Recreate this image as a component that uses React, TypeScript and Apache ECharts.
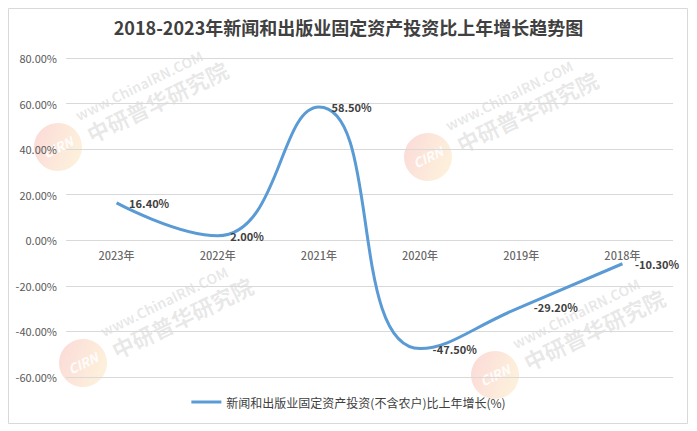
import React, { useEffect, useRef } from "react";
import * as echarts from "echarts";

const title = "2018-2023年新闻和出版业固定资产投资比上年增长趋势图";
const seriesName = "新闻和出版业固定资产投资(不含农户)比上年增长(%)";
const categories = ["2023年", "2022年", "2021年", "2020年", "2019年", "2018年"];
const values = [16.4, 2.0, 58.5, -47.5, -29.2, -10.3];
const yMin = -60;
const yMax = 80;
const yStep = 20;

const FONT = '"Noto Sans CJK SC", "Noto Sans", sans-serif';
const LINE_COLOR = "#5B9BD5";

function watermark(cx: number, cy: number) {
  return {
    type: "group",
    x: cx,
    y: cy,
    rotation: (26 * Math.PI) / 180,
    silent: true,
    z: 0,
    children: [
      {
        type: "circle",
        shape: { cx: 0, cy: 0, r: 24 },
        style: {
          fill: {
            type: "linear",
            x: 0,
            y: 0,
            x2: 1,
            y2: 1,
            colorStops: [
              { offset: 0, color: "rgba(235,60,60,0.2)" },
              { offset: 1, color: "rgba(245,200,60,0.18)" },
            ],
          },
        },
      },
      {
        type: "text",
        x: 0,
        y: 0,
        style: {
          text: "CIRN",
          fill: "rgba(255,255,255,0.9)",
          font: `italic bold 13px ${FONT}`,
          align: "center",
          verticalAlign: "middle",
        },
      },
      {
        type: "text",
        x: 32,
        y: 2,
        style: {
          text: "中研普华研究院",
          fill: "rgba(110,110,110,0.16)",
          font: `bold 22px ${FONT}`,
          align: "left",
          verticalAlign: "middle",
        },
      },
      {
        type: "text",
        x: 30,
        y: -20,
        style: {
          text: "www.ChinaIRN.COM",
          fill: "rgba(110,110,110,0.16)",
          font: `bold 14px ${FONT}`,
          align: "left",
          verticalAlign: "middle",
        },
      },
    ],
  };
}

export default function App() {
  const ref = useRef<HTMLDivElement>(null);
  useEffect(() => {
    if (!ref.current) return;
    const chart = echarts.init(ref.current, undefined, { renderer: "svg" });
    chart.setOption({
      animation: false,
      backgroundColor: "#ffffff",
      title: {
        text: title,
        left: "center",
        top: 13,
        textStyle: { fontFamily: FONT, fontSize: 18, fontWeight: "bold", color: "#404040" },
      },
      legend: {
        bottom: 18,
        left: "center",
        icon: "rect",
        itemWidth: 30,
        itemHeight: 3,
        textStyle: { fontFamily: FONT, fontSize: 12, color: "#404040" },
        data: [{ name: seriesName, itemStyle: { color: LINE_COLOR, opacity: 1 } }],
      },
      grid: { left: 66, right: 24, top: 58, bottom: 54, containLabel: false },
      xAxis: {
        type: "category",
        data: categories,
        boundaryGap: true,
        axisLine: { show: false },
        axisTick: { show: false },
        axisLabel: { show: false },
        splitLine: { show: false },
      },
      yAxis: {
        type: "value",
        min: yMin,
        max: yMax,
        interval: yStep,
        axisLine: { show: false },
        axisTick: { show: false },
        axisLabel: {
          fontFamily: FONT,
          fontSize: 11,
          color: "#595959",
          margin: 9,
          formatter: (v: number) => v.toFixed(2) + "%",
        },
        splitLine: { lineStyle: { color: "#d9d9d9", width: 1 } },
      },
      graphic: [
        watermark(58, 147),
        watermark(428, 157),
        watermark(83, 363),
        watermark(495, 375),
        {
          type: "rect",
          shape: { x: 8.5, y: 8.5, width: 679, height: 415 },
          style: { fill: "none", stroke: "#d9d9d9", lineWidth: 1 },
          silent: true,
        },
      ],
      series: [
        {
          name: seriesName,
          type: "line",
          data: values,
          smooth: 0.5,
          showSymbol: true,
          symbol: "circle",
          symbolSize: 1,
          lineStyle: { color: LINE_COLOR, width: 3 },
          itemStyle: { color: "rgba(91,155,213,0)" },
          label: {
            show: true,
            position: "right",
            distance: 12,
            fontFamily: FONT,
            fontSize: 11,
            fontWeight: "bold",
            color: "#404040",
            formatter: (p: any) => Number(p.value).toFixed(2) + "%",
          },
          z: 3,
        },
        {
          name: "categoryLabels",
          type: "scatter",
          data: categories.map((c) => [c, 0]),
          symbol: "circle",
          symbolSize: 1,
          itemStyle: { color: "rgba(0,0,0,0)" },
          silent: true,
          label: {
            show: true,
            position: "bottom",
            distance: 9,
            fontFamily: FONT,
            fontSize: 11,
            fontWeight: 500,
            color: "#404040",
            formatter: (p: any) => p.value[0],
          },
          z: 2,
        },
      ],
    });
    return () => chart.dispose();
  }, []);
  return (
    <div
      ref={ref}
      style={{ position: "absolute", left: 0, top: 0, width: 697, height: 431, background: "#fff" }}
    />
  );
}
